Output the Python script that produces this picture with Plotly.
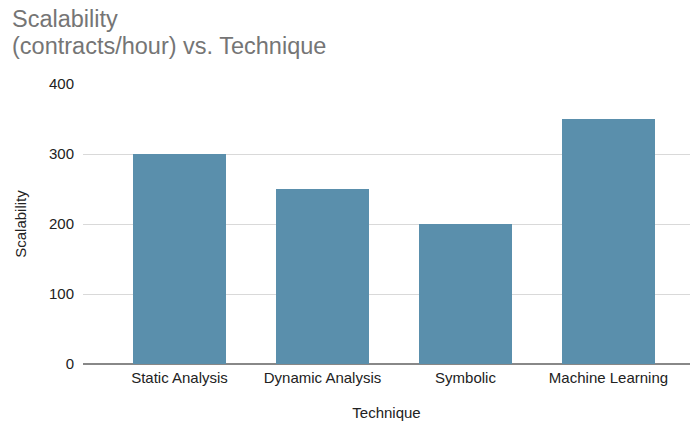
import plotly.graph_objects as go

techniques = ["Static Analysis", "Dynamic Analysis", "Symbolic", "Machine Learning"]
scalability = [300, 250, 200, 350]
y_ticks = [0, 100, 200, 300, 400]
title_lines = ["Scalability", "(contracts/hour) vs. Technique"]

fig = go.Figure(
    go.Bar(
        x=list(range(len(techniques))),
        y=scalability,
        width=0.65,
        marker=dict(color="#5a8fac", line=dict(width=0)),
    )
)

fig.update_layout(
    width=694,
    height=423,
    margin=dict(l=83, r=4, t=84, b=59),
    paper_bgcolor="white",
    plot_bgcolor="white",
    font=dict(family="Liberation Sans, Arial, sans-serif", color="#222222", size=15),
    showlegend=False,
    bargap=0,
)

# Two-line chart title, placed as separate lines for tight spacing
for i, line in enumerate(title_lines):
    fig.add_annotation(
        text=line,
        xref="paper",
        yref="paper",
        x=-72 / 607,
        y=1 + (84 - 33 - 27 * i) / 280,
        xanchor="left",
        yanchor="bottom",
        borderpad=0,
        showarrow=False,
        font=dict(size=23.5, color="#757575"),
    )

fig.update_xaxes(
    tickmode="array",
    tickvals=list(range(len(techniques))),
    ticktext=techniques,
    range=[-0.675, 3.57],
    showgrid=False,
    showline=False,
    ticks="",
    ticklabelstandoff=3,
    automargin=False,
    title=dict(text="Technique", font=dict(size=15, color="#222222"), standoff=22),
)

fig.update_yaxes(
    range=[0, 400],
    tickvals=y_ticks,
    showgrid=True,
    gridcolor="#d9d9d9",
    gridwidth=1,
    zeroline=True,
    zerolinecolor="#888888",
    zerolinewidth=2,
    ticks="",
    ticklabelstandoff=8,
    automargin=False,
    title=dict(text="Scalability", font=dict(size=15, color="#222222"), standoff=18),
)

fig.write_html("out.html")
